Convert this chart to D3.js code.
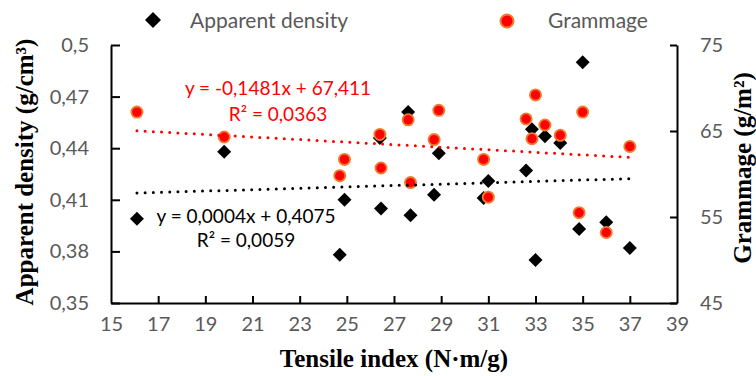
<!DOCTYPE html>
<html>
<head>
<meta charset="utf-8">
<script src="https://cdn.jsdelivr.net/npm/d3@7"></script>
<style>
  body { margin: 0; background: #fff; }
  svg text { font-family: Lato, "Open Sans", sans-serif; }
</style>
</head>
<body>
<div id="chart"></div>
<script>
// values
const tensile = [16.1, 19.8, 24.9, 24.7, 26.4, 26.45, 27.6, 27.7, 28.9, 28.7, 30.8, 31.0, 32.6, 32.85, 33.0, 33.4, 34.05, 35.0, 34.85, 36.0, 37.0];
const density = [0.399, 0.438, 0.410, 0.378, 0.446, 0.405, 0.461, 0.401, 0.437, 0.413, 0.411, 0.421, 0.427, 0.451, 0.375, 0.447, 0.443, 0.490, 0.393, 0.397, 0.382];
const grammage = [67.2, 64.3, 61.7, 59.8, 64.6, 60.7, 66.3, 59.0, 67.4, 64.0, 61.7, 57.3, 66.4, 64.1, 69.2, 65.7, 64.5, 67.2, 55.5, 53.2, 63.2];

const xTicks = [15, 17, 19, 21, 23, 25, 27, 29, 31, 33, 35, 37, 39];
const yLeftTicks = [0.35, 0.38, 0.41, 0.44, 0.47, 0.5];
const yRightTicks = [45, 55, 65, 75];

// trendlines as printed on the chart
const fitDensity = { slope: 0.0004, intercept: 0.4075, label: "y = 0,0004x + 0,4075", r2: "R² = 0,0059" };
const fitGrammage = { slope: -0.1481, intercept: 67.411, label: "y = -0,1481x + 67,411", r2: "R² = 0,0363" };

const width = 756, height = 376;
const margin = { top: 45, right: 79, bottom: 73, left: 111 };

const svg = d3.select("#chart").append("svg")
    .attr("width", width)
    .attr("height", height);

const x = d3.scaleLinear().domain([15, 39]).range([margin.left, width - margin.right]);
const yL = d3.scaleLinear().domain([0.35, 0.5]).range([height - margin.bottom, margin.top]);
const yR = d3.scaleLinear().domain([45, 75]).range([height - margin.bottom, margin.top]);

const comma = f => d => d3.format(f)(d).replace(".", ",");
const labelColor = "#595959";

// axes
const xAxis = svg.append("g")
    .attr("transform", `translate(0,${height - margin.bottom})`)
    .call(d3.axisBottom(x).tickValues(xTicks).tickSize(-7).tickPadding(14).tickSizeOuter(0));

const leftAxis = svg.append("g")
    .attr("transform", `translate(${margin.left},0)`)
    .call(d3.axisLeft(yL).tickValues(yLeftTicks).tickFormat(comma(".2~f")).tickSize(-9).tickPadding(22).tickSizeOuter(0));

const rightAxis = svg.append("g")
    .attr("transform", `translate(${width - margin.right},0)`)
    .call(d3.axisRight(yR).tickValues(yRightTicks).tickSize(-7).tickPadding(23).tickSizeOuter(0));

[xAxis, leftAxis, rightAxis].forEach(g => {
    g.select(".domain").attr("stroke", "#000").attr("stroke-width", 2);
    g.selectAll(".tick line").attr("stroke", "#000").attr("stroke-width", 2);
    g.selectAll(".tick text").attr("fill", labelColor).style("font-size", "20px");
});
xAxis.selectAll(".tick").filter(d => d === 15 || d === 39).select("line").remove();

// markers
const diamond = d3.symbol().type(d3.symbolSquare).size(98);
svg.append("g").selectAll("path")
    .data(tensile)
    .join("path")
    .attr("d", diamond)
    .attr("transform", (d, i) => `translate(${x(d)},${yL(density[i])}) rotate(45)`)
    .attr("fill", "#000");

svg.append("g").selectAll("circle")
    .data(tensile)
    .join("circle")
    .attr("cx", d => x(d))
    .attr("cy", (d, i) => yR(grammage[i]))
    .attr("r", 5.6)
    .attr("fill", "#ff0000")
    .attr("stroke", "#ed7d31")
    .attr("stroke-width", 1.8);

// dotted trendlines
const [xMin, xMax] = d3.extent(tensile);
function trend(fit, yScale, color) {
    svg.append("line")
        .attr("x1", x(xMin)).attr("y1", yScale(fit.slope * xMin + fit.intercept))
        .attr("x2", x(xMax)).attr("y2", yScale(fit.slope * xMax + fit.intercept))
        .attr("stroke", color)
        .attr("stroke-width", 3)
        .attr("stroke-linecap", "round")
        .attr("stroke-dasharray", "0,8.2");
}
trend(fitDensity, yL, "#000");
trend(fitGrammage, yR, "#ff0000");

// equation labels
const eq = (txt, cx, cy, color) => svg.append("text")
    .attr("x", cx).attr("y", cy)
    .attr("text-anchor", "middle")
    .attr("fill", color)
    .style("font-size", "19px")
    .text(txt);
eq(fitGrammage.label, 278, 95, "#ff0000");
eq(fitGrammage.r2, 278, 121, "#ff0000");
eq(fitDensity.label, 246, 223, "#000");
eq(fitDensity.r2, 246, 247, "#000");

// legend
const legend = svg.append("g");
legend.append("path")
    .attr("d", d3.symbol().type(d3.symbolSquare).size(128))
    .attr("transform", "translate(153,20) rotate(45)")
    .attr("fill", "#000");
legend.append("text").attr("x", 190).attr("y", 28)
    .attr("fill", labelColor).style("font-size", "21px")
    .text("Apparent density");
legend.append("circle")
    .attr("cx", 507).attr("cy", 21).attr("r", 6.5)
    .attr("fill", "#ff0000").attr("stroke", "#ed7d31").attr("stroke-width", 2);
legend.append("text").attr("x", 548).attr("y", 28)
    .attr("fill", labelColor).style("font-size", "21px")
    .text("Grammage");

// axis titles
const title = svg.append("g")
    .style("font-family", "'Liberation Serif', 'Times New Roman', serif")
    .style("font-weight", "bold")
    .style("font-size", "25px");
title.append("text")
    .attr("x", (margin.left + width - margin.right) / 2)
    .attr("y", 367)
    .attr("text-anchor", "middle")
    .style("font-family", "inherit")
    .text("Tensile index (N·m/g)");
title.append("text")
    .attr("transform", "translate(33,172) rotate(-90)")
    .attr("text-anchor", "middle")
    .style("font-family", "inherit")
    .text("Apparent density (g/cm³)");
title.append("text")
    .attr("transform", "translate(751,168) rotate(-90)")
    .attr("text-anchor", "middle")
    .style("font-family", "inherit")
    .text("Grammage (g/m²)");
</script>
</body>
</html>
